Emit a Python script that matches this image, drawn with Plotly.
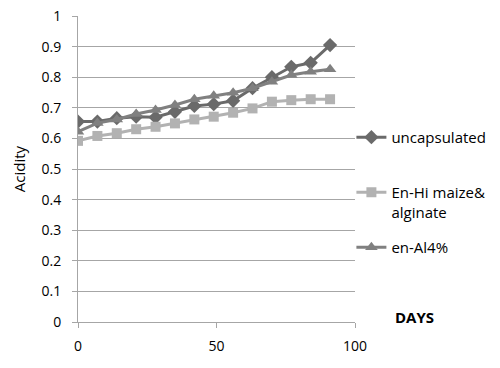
import plotly.graph_objects as go

days = [0, 7, 14, 21, 28, 35, 42, 49, 56, 63, 70, 77, 84, 91]
uncapsulated = [0.655, 0.655, 0.666, 0.671, 0.669, 0.687, 0.706, 0.712, 0.723, 0.764, 0.800, 0.834, 0.847, 0.905]
en_hi_maize = [0.592, 0.608, 0.617, 0.630, 0.638, 0.649, 0.662, 0.671, 0.684, 0.698, 0.720, 0.725, 0.728, 0.728]
en_al4 = [0.622, 0.650, 0.662, 0.680, 0.693, 0.709, 0.728, 0.739, 0.749, 0.764, 0.785, 0.807, 0.818, 0.826]
y_ticks = [0, 0.1, 0.2, 0.3, 0.4, 0.5, 0.6, 0.7, 0.8, 0.9, 1]
y_tick_labels = ["0", "0.1", "0.2", "0.3", "0.4", "0.5", "0.6", "0.7", "0.8", "0.9", "1"]

FONT = "Open Sans"

fig = go.Figure()
fig.add_trace(go.Scatter(x=days, y=uncapsulated, mode="lines+markers",
                         name="uncapsulated<br> ", legendgroup="a",
                         line=dict(color="#6a6a6a", width=3),
                         marker=dict(symbol="diamond", size=11, color="#6a6a6a")))
fig.add_trace(go.Scatter(x=days, y=en_hi_maize, mode="lines+markers",
                         name="En-Hi maize&<br>alginate", legendgroup="b",
                         line=dict(color="#b2b2b2", width=3),
                         marker=dict(symbol="square", size=10, color="#b2b2b2")))
fig.add_trace(go.Scatter(x=days, y=en_al4, mode="lines+markers",
                         name="en-Al4%", legendgroup="c",
                         line=dict(color="#808080", width=3),
                         marker=dict(symbol="triangle-up", size=11, color="#808080")))

fig.update_layout(
    width=500, height=368,
    margin=dict(l=78, r=145, t=16, b=46, autoexpand=False),
    paper_bgcolor="white", plot_bgcolor="white",
    font=dict(family=FONT, size=13, color="#000000"),
    legend=dict(x=0.987, xanchor="left", y=0.657, yanchor="top",
                font=dict(family=FONT, size=15), valign="top",
                tracegroupgap=13, bgcolor="rgba(0,0,0,0)"),
    xaxis=dict(range=[0, 100], tickvals=[0, 50, 100], showgrid=False,
               showline=True, linecolor="#a6a6a6", linewidth=1,
               ticks="outside", ticklen=5, tickcolor="#a6a6a6",
               zeroline=False, tickfont=dict(size=14), automargin=False,
               ticklabelstandoff=6, ticklabeloverflow="allow"),
    yaxis=dict(range=[0, 1], tickvals=y_ticks, ticktext=y_tick_labels,
               showgrid=True, gridcolor="#a6a6a6", gridwidth=1,
               showline=True, linecolor="#a6a6a6", linewidth=1,
               ticks="outside", ticklen=5, tickcolor="#a6a6a6",
               zeroline=False, tickfont=dict(size=14), automargin=False,
               ticklabelstandoff=8, ticklabeloverflow="allow",
               title=dict(text="Acidity", font=dict(size=15), standoff=12)),
    annotations=[dict(text="<b>DAYS</b>", x=1.0, y=0, xref="paper", yref="paper",
                      xanchor="left", yanchor="middle", xshift=38, yshift=5,
                      showarrow=False, font=dict(family=FONT, size=15))],
)

fig.write_html("out.html", config={"displayModeBar": False},
               post_script="document.body.style.margin='0';")
